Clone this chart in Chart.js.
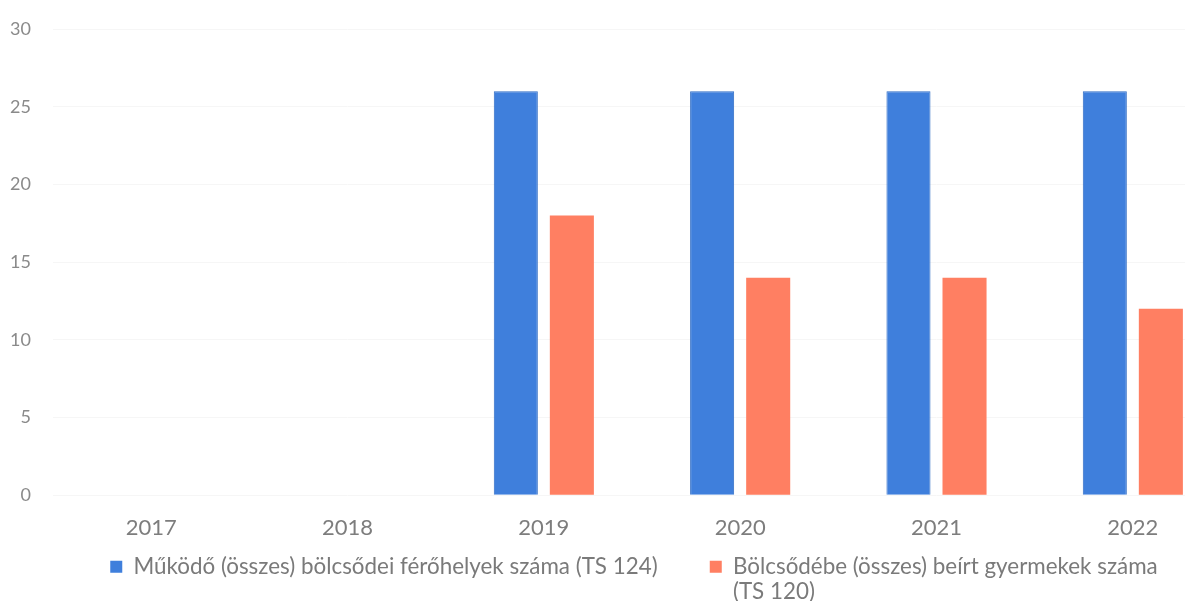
<!DOCTYPE html>
<html>
<head>
<meta charset="utf-8">
<script src="https://cdn.jsdelivr.net/npm/chart.js@4/dist/chart.umd.min.js"></script>
<style>
  html, body { margin: 0; padding: 0; background: #fff; overflow: hidden; }
  #wrap { width: 1240px; height: 601px; }
</style>
</head>
<body>
<div id="wrap"><canvas id="chart"></canvas></div>
<script>
// ===== Data =====
const years = ['2017', '2018', '2019', '2020', '2021', '2022'];
const placesLabel = 'Működő (összes) bölcsődei férőhelyek száma (TS 124)';
const placesValues = [null, null, 26, 26, 26, 26];
const enrolledLabel = ['Bölcsődébe (összes) beírt gyermekek száma', '(TS 120)'];
const enrolledValues = [null, null, 18, 14, 14, 12];

const blue = '#3f7fdc';
const orange = '#ff7f62';
const legendGap = '\u00a0'.repeat(7);

// legend sits a bit right of centre and a little higher in the original;
// the wrapped second line also needs room below the legend box
const legendShift = {
    id: 'legendShift',
    afterLayout: (chart) => {
        const lg = chart.legend;
        if (lg._shifted) return;
        const draw = lg.draw.bind(lg);
        lg.draw = function () {
            const bottom = this.bottom;
            this.bottom = bottom + 40;
            this.ctx.save();
            this.ctx.translate(60, -18);
            draw();
            this.ctx.restore();
            this.bottom = bottom;
        };
        lg._shifted = true;
    }
};

// ===== Chart =====
const ctx = document.getElementById('chart');
new Chart(ctx, {
    type: 'bar',
    data: {
        labels: years,
        datasets: [{
            label: placesLabel,
            data: placesValues,
            backgroundColor: blue,
            borderColor: '#2f6cc4',
            borderWidth: 1
        }, {
            label: enrolledLabel.join(' '),
            data: enrolledValues,
            backgroundColor: orange,
            borderWidth: 0
        }]
    },
    plugins: [legendShift],
    options: {
        responsive: true,
        maintainAspectRatio: false,
        animation: false,
        datasets: {
            bar: { categoryPercentage: 0.571, barPercentage: 0.786 }
        },
        layout: { padding: { top: -4, left: 4, right: 9, bottom: -5 } },
        scales: {
            x: {
                grid: { display: false, drawTicks: false },
                border: { display: false },
                ticks: { color: '#7d7d7d', font: { family: 'Lato', size: 22 }, padding: 20 }
            },
            y: {
                min: 0, max: 30,
                ticks: { stepSize: 5, color: '#8a8a8a', font: { family: 'Lato', size: 18, lineHeight: 0.8 }, padding: 22 },
                grid: { color: '#f6f6f6', drawTicks: false },
                border: { display: false },
                afterFit: (scale) => { scale.width = 49; }
            }
        },
        plugins: {
            legend: {
                position: 'bottom',
                labels: {
                    color: '#7a7a7a',
                    font: { family: 'Lato', size: 22.4, lineHeight: 1.12 },
                    boxWidth: 12,
                    boxHeight: 12,
                    padding: 12,
                    generateLabels: (chart) => {
                        return chart.data.datasets.map((ds, i) => ({
                            text: i === 1 ? enrolledLabel : ds.label + legendGap,
                            fillStyle: ds.backgroundColor,
                            strokeStyle: ds.backgroundColor,
                            lineWidth: 0,
                            fontColor: '#7a7a7a',
                            datasetIndex: i
                        }));
                    }
                }
            },
            tooltip: { enabled: false }
        }
    }
});
</script>
</body>
</html>
